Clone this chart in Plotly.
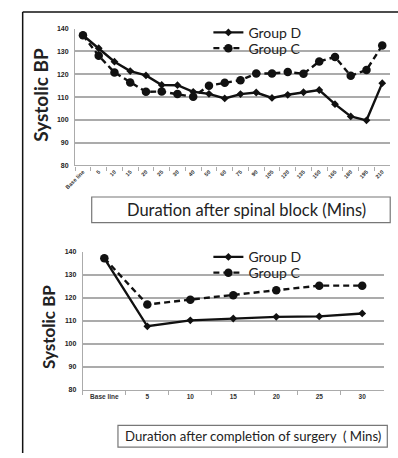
import plotly.graph_objects as go

W, H = 398, 458

top_cats = ["Base line", "5", "10", "15", "20", "25", "30", "40", "50", "60", "75", "90",
            "105", "120", "135", "150", "165", "180", "195", "210"]
top_D = [137.1, 131.4, 125.5, 121.4, 119.5, 115.3, 115.2, 112.3, 111.4, 109.4, 111.3, 112.0,
         109.6, 111.0, 112.1, 113.1, 106.9, 101.5, 99.8, 116.1]
top_C = [137.1, 128.1, 120.8, 116.4, 112.3, 112.4, 111.3, 110.1, 115.0, 116.3, 117.4, 120.3,
         120.3, 121.0, 120.2, 125.6, 127.6, 119.3, 121.9, 132.6]

bot_cats = ["Base line", "5", "10", "15", "20", "25", "30"]
bot_D = [137.2, 107.6, 110.2, 111.0, 111.7, 111.9, 113.2]
bot_C = [137.2, 117.1, 119.2, 121.1, 123.3, 125.3, 125.3]

y_ticks = [80, 90, 100, 110, 120, 130, 140]

LINE = "#111111"
GRID = "#ababab"
FONT = "Lato"


def px_x(p):
    return p / W


def px_y(p):
    return 1 - p / H


fig = go.Figure()

d_style = dict(line=dict(color=LINE, width=2.4),
               marker=dict(symbol="diamond", size=6, color=LINE))
c_style = dict(line=dict(color=LINE, width=2.4, dash="6px,4px"),
               marker=dict(symbol="circle", size=8.5, color=LINE))

fig.add_trace(go.Scatter(x=top_cats, y=top_D, name="Group D", mode="lines+markers",
                         xaxis="x", yaxis="y", legend="legend", **d_style))
fig.add_trace(go.Scatter(x=top_cats, y=top_C, name="Group C", mode="lines+markers",
                         xaxis="x", yaxis="y", legend="legend2", **c_style))
fig.add_trace(go.Scatter(x=bot_cats, y=bot_D, name="Group D", mode="lines+markers",
                         xaxis="x2", yaxis="y2", legend="legend3", **d_style))
fig.add_trace(go.Scatter(x=bot_cats, y=bot_C, name="Group C", mode="lines+markers",
                         xaxis="x2", yaxis="y2", legend="legend4", **c_style))

xcommon = dict(type="category", showgrid=False, showline=True, linecolor=GRID, linewidth=1.2,
               ticks="outside", tickson="boundaries", ticklen=4, tickcolor=GRID,
               zeroline=False)
ycommon = dict(range=[80, 140], tickvals=y_ticks, showgrid=True, gridcolor=GRID, gridwidth=1.6,
               showline=True, linecolor=GRID, linewidth=1.2, zeroline=False,
               tickfont=dict(family="Liberation Sans", size=7, color="#222", weight="bold"),
               ticks="", ticklabelstandoff=4)


def leg(top_px):
    return dict(x=px_x(203), y=px_y(top_px), xanchor="left", yanchor="top",
                bgcolor="rgba(0,0,0,0)", font=dict(family=FONT, size=14, color="#222"),
                itemwidth=30)


fig.update_layout(
    width=W, height=H, margin=dict(l=0, r=0, t=0, b=0),
    paper_bgcolor="white", plot_bgcolor="white",
    font=dict(family=FONT, color="#222"),
    xaxis=dict(**xcommon, domain=[px_x(65.9), px_x(389.9)], anchor="y",
               range=[-0.5, len(top_cats) - 0.5], tickangle=-45,
               tickfont=dict(family="Liberation Sans", size=5.5, color="#333", weight="bold")),
    yaxis=dict(**ycommon, domain=[px_y(164), px_y(25)], anchor="x"),
    xaxis2=dict(**xcommon, domain=[px_x(73.9), px_x(383.3)], anchor="y2",
                range=[-0.5, len(bot_cats) - 0.5], tickangle=0,
                tickfont=dict(family="Liberation Sans", size=6.5, color="#333", weight="bold")),
    yaxis2=dict(**ycommon, domain=[px_y(391.7), px_y(251.7)], anchor="x2"),
    legend=leg(13),
    legend2=leg(29),
    legend3=leg(241),
    legend4=leg(257),
    showlegend=True,
)

shapes = [
    dict(type="line", xref="paper", yref="paper", x0=px_x(12), x1=px_x(12), y0=px_y(456), y1=px_y(8),
         line=dict(color="#111", width=1.5)),
    dict(type="line", xref="paper", yref="paper", x0=px_x(12), x1=1, y0=px_y(8), y1=px_y(8),
         line=dict(color="#111", width=1.5)),
    dict(type="rect", xref="paper", yref="paper", x0=px_x(83), x1=px_x(390), y0=px_y(222), y1=px_y(196),
         line=dict(color="#777", width=1.2), fillcolor="white"),
    dict(type="rect", xref="paper", yref="paper", x0=px_x(110), x1=px_x(387), y0=px_y(450), y1=px_y(428),
         line=dict(color="#777", width=1.2), fillcolor="white"),
]

annotations = [
    dict(text="Duration after spinal block (Mins)", xref="paper", yref="paper",
         x=px_x(242), y=px_y(209), xanchor="center", yanchor="middle", showarrow=False,
         font=dict(family=FONT, size=16.5, color="#222")),
    dict(text="Duration after completion of surgery  ( Mins)", xref="paper", yref="paper",
         x=px_x(249), y=px_y(439), xanchor="center", yanchor="middle", showarrow=False,
         font=dict(family=FONT, size=13.2, color="#222")),
    dict(text="Systolic BP", xref="paper", yref="paper", x=px_x(30), y=px_y(92),
         xanchor="center", yanchor="middle", textangle=-90, showarrow=False,
         font=dict(family=FONT, size=19, color="#222", weight="bold")),
    dict(text="Systolic BP", xref="paper", yref="paper", x=px_x(39), y=px_y(328),
         xanchor="center", yanchor="middle", textangle=-90, showarrow=False,
         font=dict(family=FONT, size=17, color="#222", weight="bold")),
]

fig.update_layout(shapes=shapes, annotations=annotations)

fig.write_html("out.html")
